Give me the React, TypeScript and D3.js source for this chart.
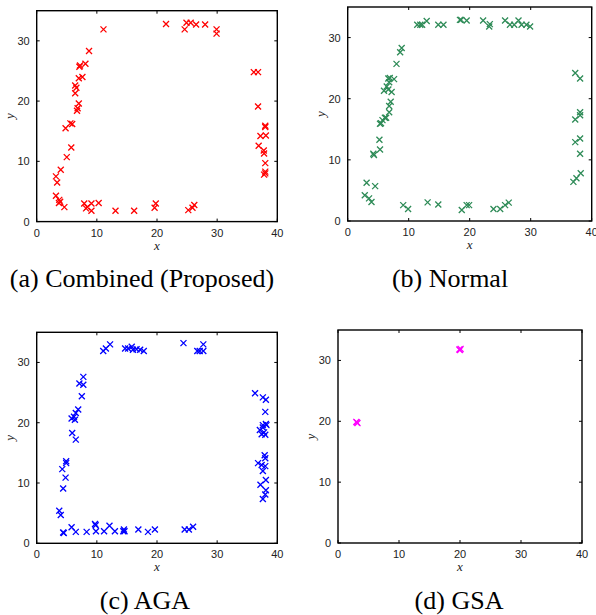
import React from 'react';
import * as d3 from 'd3';

type Pt = [number, number];

const xTicks = [0, 10, 20, 30, 40];
const yTicks = [0, 10, 20, 30];

const combinedPoints: Pt[] = [
  [11.1, 31.9], [8.7, 28.3], [8.1, 26.2], [7.1, 25.7], [7.2, 25.9], [7.6, 24.0], [7.0, 23.8],
  [6.4, 22.6], [6.6, 22.2], [6.4, 21.3], [7.0, 19.6], [6.8, 18.8], [6.7, 18.4], [5.9, 16.2],
  [5.6, 16.3], [4.8, 15.5], [5.75, 12.3], [5.0, 10.7], [4.0, 8.6], [3.2, 7.5], [3.4, 6.5],
  [3.2, 4.3], [3.75, 3.6], [3.9, 3.3], [3.7, 3.1], [4.6, 2.4], [7.9, 3.0], [8.4, 2.4],
  [8.2, 2.2], [9.1, 1.8], [9.1, 3.0], [10.3, 3.1], [13.1, 1.8], [16.2, 1.8], [19.8, 3.0],
  [19.6, 2.3], [25.2, 1.9], [25.9, 2.3], [26.2, 2.75], [21.5, 32.8], [24.9, 33.0], [25.6, 33.0],
  [26.5, 32.7], [24.6, 31.9], [28.0, 32.7], [29.9, 31.9], [29.9, 31.2], [36.1, 24.8], [36.8, 24.8],
  [36.8, 19.1], [38.0, 15.9], [38.0, 15.7], [37.2, 14.2], [38.1, 14.3], [36.9, 12.6], [37.75, 11.8],
  [37.8, 11.3], [38.0, 9.7], [38.0, 8.3], [38.0, 8.0], [37.8, 7.8],
];

const normalPoints: Pt[] = [
  [5.46, 16.0], [5.7, 16.5], [6.1, 16.9], [6.8, 17.8], [6.8, 18.8], [7.05, 19.5], [5.95, 21.3],
  [6.66, 21.5], [7.2, 21.1], [6.4, 22.0], [6.8, 22.7], [6.66, 23.3], [7.6, 23.2], [6.9, 23.4],
  [8.0, 25.7], [8.6, 27.6], [8.85, 28.3], [11.4, 32.1], [11.9, 32.1], [12.2, 32.1], [12.95, 32.7],
  [14.85, 32.1], [15.7, 32.1], [18.4, 32.9], [18.6, 32.9], [19.5, 32.8], [22.2, 32.8], [23.2, 31.8],
  [23.3, 32.2], [25.8, 32.8], [26.6, 32.1], [27.3, 32.1], [28.0, 32.8], [28.5, 32.1], [29.3, 32.1],
  [29.9, 31.8], [37.3, 24.2], [38.1, 23.3], [37.3, 16.6], [38.1, 17.8], [38.1, 17.3], [37.3, 12.9],
  [38.1, 13.5], [38.1, 11.0], [37.0, 6.4], [37.5, 7.0], [38.2, 7.8], [5.3, 15.9], [6.3, 16.9],
  [5.2, 13.3], [5.3, 11.7], [4.2, 11.0], [4.3, 10.8], [3.1, 6.25], [4.5, 5.7], [2.8, 4.2],
  [3.5, 3.7], [3.9, 3.1], [9.1, 2.6], [9.9, 1.95], [13.1, 3.05], [14.85, 2.7], [18.7, 1.8],
  [19.5, 2.6], [19.9, 2.6], [23.9, 1.95], [25.0, 1.95], [25.8, 2.6], [26.4, 3.0],
];

const agaPoints: Pt[] = [
  [11.06, 31.9], [11.5, 32.3], [12.2, 33.0], [14.7, 32.3], [15.2, 32.3], [15.8, 32.6], [16.0, 32.1],
  [16.6, 32.2], [17.2, 32.1], [17.8, 31.9], [7.75, 27.6], [7.1, 26.5], [7.75, 26.3], [7.5, 24.4],
  [6.9, 22.2], [6.5, 21.6], [6.2, 21.0], [5.8, 20.7], [6.35, 20.5], [24.4, 33.2], [26.7, 31.9],
  [27.1, 31.9], [27.7, 33.0], [27.7, 31.9], [36.3, 24.9], [37.6, 24.2], [38.1, 23.8], [38.0, 21.8],
  [37.6, 19.6], [38.1, 19.8], [5.9, 18.3], [6.5, 17.2], [4.9, 13.6], [4.9, 13.3], [4.25, 12.3],
  [4.8, 10.9], [4.4, 9.1], [3.75, 5.4], [4.0, 4.7], [4.4, 1.8], [4.5, 1.7], [5.8, 2.65],
  [6.5, 1.9], [8.3, 1.9], [9.7, 3.2], [9.8, 3.0], [9.85, 2.0], [11.2, 2.0], [12.1, 2.9],
  [13.0, 2.0], [14.4, 2.0], [14.6, 2.0], [14.5, 2.3], [16.9, 2.3], [18.5, 1.9], [19.65, 2.3],
  [24.6, 2.3], [25.3, 2.3], [26.0, 2.75], [37.1, 18.8], [37.6, 19.2], [38.2, 19.6], [37.8, 18.4],
  [38.0, 18.0], [37.4, 18.1], [37.9, 14.6], [38.0, 14.1], [36.8, 13.3], [37.4, 13.0], [38.0, 12.8],
  [37.6, 12.0], [38.1, 10.5], [37.2, 9.7], [38.1, 8.8], [38.0, 8.1], [37.6, 7.35],
];

const gsaPoints: Pt[] = [
  [3.1, 19.8], [3.2, 19.7], [3.0, 19.9], [19.9, 31.8], [20.1, 31.9], [20.0, 31.7],
];

const captions = ['(a) Combined (Proposed)', '(b) Normal', '(c) AGA', '(d) GSA'];
const colors = ['#ff0000', '#2e8b57', '#0000ff', '#ff00ff'];

interface PanelProps {
  left: number; top: number; width: number; height: number;
  points: Pt[]; color: string; caption: string; capX: number; capY: number;
}

function Panel({ left, top, width, height, points, color, caption, capX, capY }: PanelProps) {
  const x = d3.scaleLinear().domain([0, 40]).range([left, left + width]);
  const y = d3.scaleLinear().domain([0, 35]).range([top + height, top]);
  const tl = 3;
  const s = 3;
  const sans = '"Liberation Sans", Arial, sans-serif';
  const serif = '"Liberation Serif", "Times New Roman", serif';
  return (
    <g>
      <rect x={left} y={top} width={width} height={height} fill="#fff" stroke="none" />
      {points.map(([px, py], i) => {
        const cx = x(px), cy = y(py);
        return (
          <path key={i} d={`M${cx - s},${cy - s}L${cx + s},${cy + s}M${cx - s},${cy + s}L${cx + s},${cy - s}`}
            stroke={color} strokeWidth={1.3} fill="none" />
        );
      })}
      {xTicks.map((t) => (
        <g key={'x' + t}>
          <line x1={x(t)} x2={x(t)} y1={top + height} y2={top + height - tl} stroke="#000" strokeWidth={1} />
          <line x1={x(t)} x2={x(t)} y1={top} y2={top + tl} stroke="#000" strokeWidth={1} />
          <text x={x(t)} y={top + height + 15} textAnchor="middle" fontFamily={sans} fontSize={11} fill="#222">{t}</text>
        </g>
      ))}
      {yTicks.map((t) => (
        <g key={'y' + t}>
          <line x1={left} x2={left + tl} y1={y(t)} y2={y(t)} stroke="#000" strokeWidth={1} />
          <line x1={left + width} x2={left + width - tl} y1={y(t)} y2={y(t)} stroke="#000" strokeWidth={1} />
          <text x={left - 7} y={y(t) + 4} textAnchor="end" fontFamily={sans} fontSize={11} fill="#222">{t}</text>
        </g>
      ))}
      <rect x={left} y={top} width={width} height={height} fill="none" stroke="#000" strokeWidth={1.4} />
      <text x={left + width / 2} y={top + height + 28} textAnchor="middle" fontFamily={serif} fontStyle="italic" fontSize={13} fill="#222">x</text>
      <text transform={`translate(${left - 23},${top + height / 2}) rotate(-90)`} textAnchor="middle" fontFamily={serif} fontStyle="italic" fontSize={13} fill="#222">y</text>
      <text x={capX} y={capY} textAnchor="middle" fontFamily={serif} fontSize={26} fill="#000">{caption}</text>
    </g>
  );
}

export default function App() {
  const layouts = [
    { left: 36.7, top: 10.7, width: 240.6, height: 210.9, capX: 142, capY: 287, points: combinedPoints },
    { left: 347.7, top: 7, width: 244, height: 214, capX: 450, capY: 287, points: normalPoints },
    { left: 36.7, top: 332.3, width: 240.6, height: 211, capX: 145, capY: 609, points: agaPoints },
    { left: 338, top: 330, width: 244, height: 213, capX: 459, capY: 609, points: gsaPoints },
  ];
  return (
    <svg width={596} height={615} style={{ position: 'absolute', left: 0, top: 0, background: '#fff' }}>
      <rect x={0} y={0} width={596} height={615} fill="#fff" />
      {layouts.map((l, i) => (
        <Panel key={i} {...l} color={colors[i]} caption={captions[i]} />
      ))}
    </svg>
  );
}
